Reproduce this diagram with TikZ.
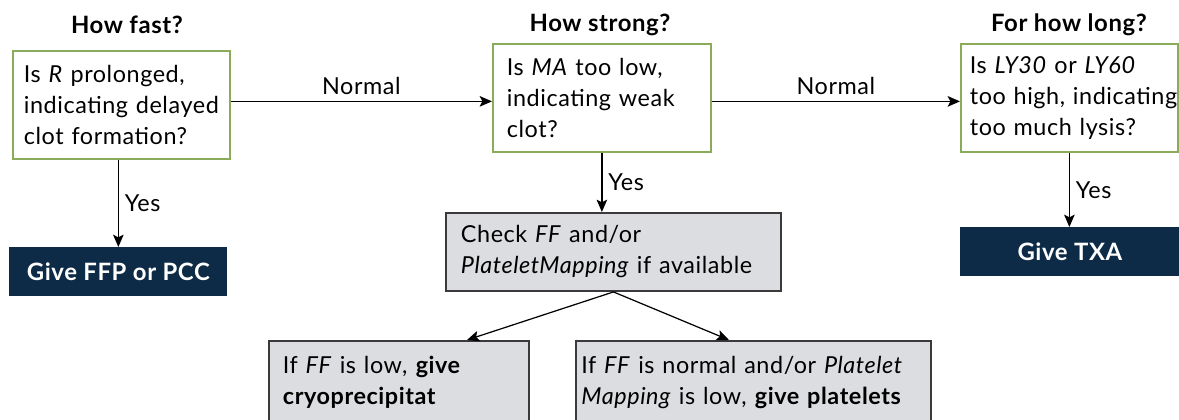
\documentclass[tikz,border=0pt]{standalone}
\usepackage{fontspec}
\setmainfont[LetterSpace=2.5]{Lato}
\usetikzlibrary{arrows.meta}

\definecolor{askgreen}{HTML}{8AAB5A}
\definecolor{givenavy}{HTML}{0D2A47}
\definecolor{checkgray}{HTML}{DCDDE0}
\definecolor{checkedge}{HTML}{3A3A3A}

\begin{document}
\begin{tikzpicture}[
  font=\fontsize{13.3}{17.6}\selectfont,
  ask/.style={draw=askgreen, line width=1pt, anchor=north west, align=left,
    inner xsep=0pt, inner ysep=0pt, minimum height=2.16cm},
  give/.style={fill=givenavy, text=white, font=\fontsize{13.6}{17.6}\selectfont\bfseries,
    anchor=north west, minimum height=0.98cm, inner sep=0pt},
  checkbox/.style={draw=checkedge, fill=checkgray, line width=1.1pt, anchor=north west,
    align=left, inner xsep=0pt},
  title/.style={font=\fontsize{13.6}{17.6}\selectfont\bfseries},
  link/.style={line width=0.7pt, -{Stealth[length=7pt,width=6pt,inset=1.5pt]}}
]
\useasboundingbox (0,0) rectangle (23.58,8.4);

% column titles
\node[title] (fast)   at (2.54,7.9)  {How fast?};
\node[title] (strong) at (12.0,7.9)  {How strong?};
\node[title] (long)   at (21.38,7.9) {For how long?};

% questions
\node[ask, minimum width=4.34cm, text width=3.9cm]  (rate)     at (0.24,7.4)
  {Is \textit{R} prolonged,\\indicating delayed\\clot formation?};
\node[ask, minimum width=4.36cm, text width=3.8cm]  (strength) at (9.84,7.54)
  {Is \textit{MA} too low,\\indicating weak\\clot?};
\node[ask, minimum width=4.34cm, text width=3.98cm] (lysis)    at (19.2,7.54)
  {\mbox{Is \textit{LY30} or \textit{LY60}}\\\mbox{too high, indicating}\\\mbox{too much lysis?}};

% treatments
\node[give, minimum width=4.36cm] (ffp) at (0.18,3.46) {Give FFP or PCC};
\node[give, minimum width=4.38cm] (txa) at (19.2,3.86) {Give TXA};

% checks
\node[checkbox, minimum width=6.7cm, minimum height=1.56cm, text width=6.1cm, inner ysep=0pt] (check) at (8.9,4.16)
  {Check \textit{FF} and/or\\\textit{PlateletMapping} if available};
\node[checkbox, minimum width=5.2cm, text width=4.64cm, inner ysep=0.3cm, text depth=1.2cm] (low) at (5.36,1.6)
  {If \textit{FF} is low, \textbf{give}\\\textbf{cryoprecipitat}};
\node[checkbox, minimum width=7.1cm, text width=6.88cm, inner ysep=0.3cm, text depth=1.2cm] (plt) at (11.5,1.6)
  {If \textit{FF} is normal and/or \textit{Platelet}\\\textit{Mapping} is low, \textbf{give platelets}};

% connectors
\draw[link] ([yshift=2pt]rate.east) -- node[above] {Normal} ([yshift=2pt]rate.east -| strength.west);
\draw[link] ([yshift=-2pt]strength.east) -- node[above] {Normal} ([yshift=-2pt]strength.east -| lysis.west);

\draw[link] (ffp.north |- rate.south) -- node[right] {Yes} (ffp.north);
\draw[link] (strength.south) -- node[right] {Yes} (strength.south |- check.north);
\draw[link] (lysis.south) -- node[right] {Yes} (lysis.south |- txa.north);

\draw[link] (check.south) -- ([xshift=1.36cm]low.north);
\draw[link] (check.south) -- ([xshift=-0.49cm]plt.north);
\end{tikzpicture}
\end{document}
